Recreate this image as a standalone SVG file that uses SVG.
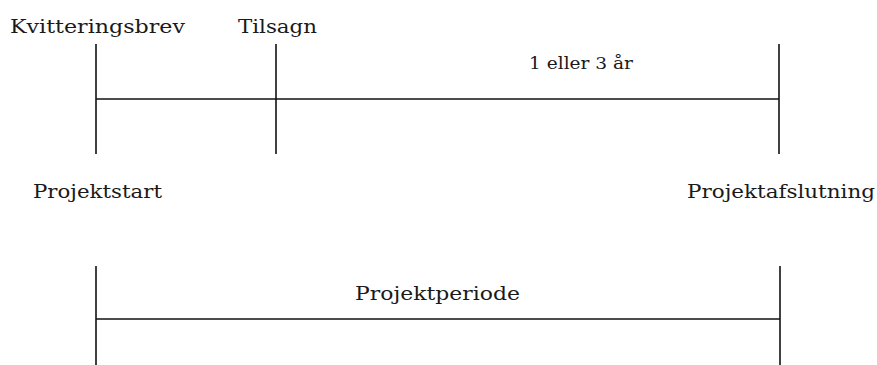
<svg xmlns="http://www.w3.org/2000/svg" width="877" height="365" viewBox="0 0 877 365">
<style>
text{fill:#1a1a1a}
.ln{stroke:#111;stroke-width:1.6;fill:none}
</style>
<rect width="877" height="365" fill="#fff"/>
<g id="labels" font-family="DejaVu Serif, Liberation Serif, serif" font-size="19">
<g id="kvitteringsbrev"><text x="10" y="33" textLength="175" lengthAdjust="spacingAndGlyphs">Kvitteringsbrev</text></g>
<g id="tilsagn"><text x="238" y="33" textLength="79" lengthAdjust="spacingAndGlyphs">Tilsagn</text></g>
<g id="varighed"><text x="529" y="69" font-size="16" textLength="104" lengthAdjust="spacingAndGlyphs">1 eller 3 år</text></g>
<g id="projektstart"><text x="33" y="198" textLength="129" lengthAdjust="spacingAndGlyphs">Projektstart</text></g>
<g id="projektafslutning"><text x="687" y="198" textLength="188" lengthAdjust="spacingAndGlyphs">Projektafslutning</text></g>
<g id="projektperiode"><text x="355" y="300" textLength="165" lengthAdjust="spacingAndGlyphs">Projektperiode</text></g>
</g>
<g id="connectors">
<line class="ln" x1="96" y1="44" x2="96" y2="154"/>
<line class="ln" x1="276" y1="44" x2="276" y2="154"/>
<line class="ln" x1="779" y1="44" x2="779" y2="154"/>
<line class="ln" x1="96" y1="99" x2="779" y2="99"/>
<line class="ln" x1="96" y1="266" x2="96" y2="365"/>
<line class="ln" x1="780" y1="266" x2="780" y2="365"/>
<line class="ln" x1="96" y1="319" x2="780" y2="319"/>
</g>
</svg>
